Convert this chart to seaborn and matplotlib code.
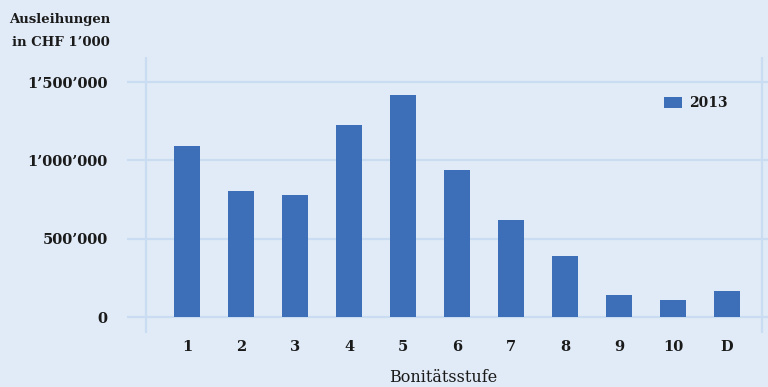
import matplotlib
matplotlib.use("Agg")
import matplotlib.pyplot as plt
import seaborn as sns
import pandas as pd
from matplotlib.ticker import FuncFormatter

# Loans by credit rating grade, 2013 (CHF thousands)
grades = ["1", "2", "3", "4", "5", "6", "7", "8", "9", "10", "D"]
loans_2013 = [1091000, 804000, 779000, 1225000, 1417000, 938000,
              619000, 389000, 140000, 108000, 166000]
y_ticks = [0, 500000, 1000000, 1500000]

BG = "#e1ebf7"
BAR = "#3d6fb9"
GRID = "#c9dcf2"
TEXT = "#1a1a1a"

sns.set_theme(style="white")
plt.rcParams["font.family"] = ["DejaVu Serif"]

df = pd.DataFrame({"grade": grades, "loans": loans_2013})

fig = plt.figure(figsize=(7.68, 3.87), dpi=100, facecolor=BG)
ax = fig.add_axes([127 / 768, 54 / 387, 641 / 768, 276 / 387])
ax.set_facecolor(BG)

sns.barplot(data=df, x="grade", y="loans", color=BAR, width=0.48,
            saturation=1, label="2013", ax=ax, zorder=3,
            edgecolor="none", linewidth=0)

# horizontal grid lines across the full width, frame lines at both sides
for t in y_ticks:
    ax.axhline(t, color=GRID, lw=1.6, zorder=1)
for xv in (-0.759, 10.648):
    ax.axvline(xv, color=GRID, lw=1.6, zorder=1)

ax.set_xlim(-1.111, 10.759)
ax.set_ylim(-102000, 1660000)
ax.set_yticks(y_ticks)
ax.yaxis.set_major_formatter(
    FuncFormatter(lambda v, p: f"{int(v):,}".replace(",", "\u2019")))
for s in ax.spines.values():
    s.set_visible(False)
ax.tick_params(axis="both", length=0, colors=TEXT, labelsize=10.5)
ax.tick_params(axis="y", pad=14)
ax.tick_params(axis="x", pad=5)
for lbl in ax.get_yticklabels() + ax.get_xticklabels():
    lbl.set_fontweight("bold")

ax.set_xlabel("")
ax.set_ylabel("")
fig.text(443 / 768, 1 - 378 / 387, "Bonitätsstufe", ha="center", va="center",
         fontsize=11.5, color=TEXT)
fig.text(110 / 768, 1 - 20 / 387, "Ausleihungen", ha="right", va="center",
         fontsize=9.5, fontweight="bold", color=TEXT)
fig.text(110 / 768, 1 - 43 / 387, "in CHF 1\u2019000", ha="right", va="center",
         fontsize=9.5, fontweight="bold", color=TEXT)

leg = ax.legend(loc="upper right",
                bbox_to_anchor=((728 - 127) / 641, 1 - (96 - 57) / 276),
                bbox_transform=ax.transAxes, frameon=False, fontsize=10,
                borderpad=0, borderaxespad=0,
                handlelength=1.35, handleheight=0.85, handletextpad=0.5)
for t in leg.get_texts():
    t.set_fontweight("bold")
    t.set_color(TEXT)

fig.savefig("out.png", dpi=100, facecolor=BG)
